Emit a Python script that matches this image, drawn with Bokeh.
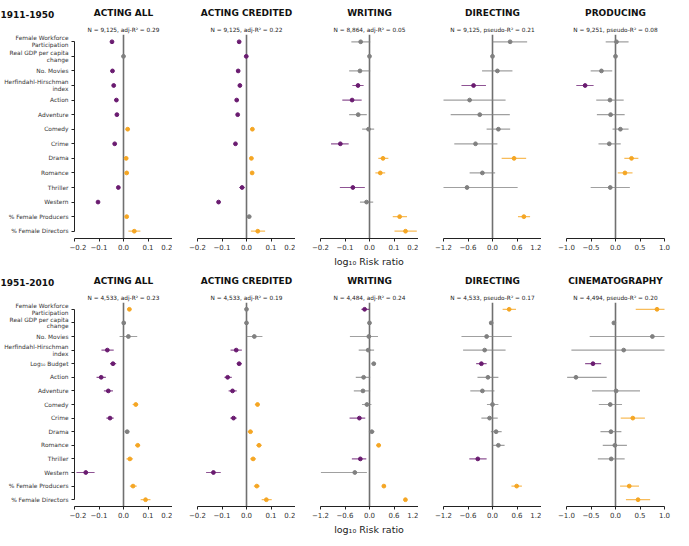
from bokeh.plotting import figure
from bokeh.layouts import row, column
from bokeh.models import Range1d, Span, Title, FixedTicker, ColumnDataSource, Div, Spacer
from bokeh.core.properties import value
from bokeh.embed import file_html
from bokeh.resources import INLINE

# ---------------- data ----------------
cats_1 = ["Female Workforce\nParticipation", "Real GDP per capita\nchange", "No. Movies",
          "Herfindahl-Hirschman\nindex", "Action", "Adventure", "Comedy", "Crime", "Drama",
          "Romance", "Thriller", "Western", "% Female Producers", "% Female Directors"]
cats_2 = cats_1[:4] + ["Log\u2081\u2080 Budget"] + cats_1[4:]

row_labels = ["1911-1950", "1951-2010"]
titles_1 = ["ACTING ALL", "ACTING CREDITED", "WRITING", "DIRECTING", "PRODUCING"]
titles_2 = ["ACTING ALL", "ACTING CREDITED", "WRITING", "DIRECTING", "CINEMATOGRAPHY"]
subs_1 = ["N = 9,125, adj-R\u00b2 = 0.29", "N = 9,125, adj-R\u00b2 = 0.22", "N = 8,864, adj-R\u00b2 = 0.05",
          "N = 9,125, pseudo-R\u00b2 = 0.21", "N = 9,251, pseudo-R\u00b2 = 0.08"]
subs_2 = ["N = 4,533, adj-R\u00b2 = 0.23", "N = 4,533, adj-R\u00b2 = 0.19", "N = 4,484, adj-R\u00b2 = 0.24",
          "N = 4,533, pseudo-R\u00b2 = 0.17", "N = 4,494, pseudo-R\u00b2 = 0.20"]

ticks_small = [-0.2, -0.1, 0.0, 0.1, 0.2]
ticks_mid = [-1.2, -0.6, 0.0, 0.6, 1.2]
ticks_unit = [-1.0, -0.5, 0.0, 0.5, 1.0]
tick_text_small = ["\u22120.2", "\u22120.1", "0.0", "0.1", "0.2"]
tick_text_mid = ["\u22121.2", "\u22120.6", "0.0", "0.6", "1.2"]
tick_text_unit = ["\u22121.0", "\u22120.5", "0.0", "0.5", "1.0"]
xlabel = "log\u2081\u2080 Risk ratio"

# Row 1 (1911-1950)
r1_act_est = [-0.047, 0.000, -0.045, -0.040, -0.029, -0.027, 0.017, -0.036, 0.011, 0.013, -0.021, -0.104, 0.013, 0.044]
r1_act_lo = [-0.052, -0.003, -0.050, -0.045, -0.034, -0.032, 0.013, -0.041, 0.007, 0.009, -0.027, -0.109, 0.008, 0.020]
r1_act_hi = [-0.042, 0.003, -0.040, -0.035, -0.024, -0.022, 0.021, -0.031, 0.015, 0.017, -0.015, -0.099, 0.018, 0.069]
r1_act_sig = [-1, 0, -1, -1, -1, -1, 1, -1, 1, 1, -1, -1, 1, 1]

r1_cred_est = [-0.030, -0.001, -0.034, -0.027, -0.040, -0.036, 0.024, -0.045, 0.020, 0.023, -0.018, -0.114, 0.011, 0.046]
r1_cred_lo = [-0.035, -0.003, -0.039, -0.031, -0.045, -0.041, 0.020, -0.050, 0.016, 0.019, -0.030, -0.119, 0.003, 0.018]
r1_cred_hi = [-0.025, 0.001, -0.029, -0.023, -0.035, -0.031, 0.028, -0.040, 0.024, 0.027, -0.007, -0.109, 0.019, 0.076]
r1_cred_sig = [-1, -1, -1, -1, -1, -1, 1, -1, 1, 1, -1, -1, 0, 1]

r1_writ_est = [-0.036, 0.000, -0.039, -0.047, -0.071, -0.046, -0.004, -0.119, 0.055, 0.044, -0.068, -0.012, 0.123, 0.147]
r1_writ_lo = [-0.074, -0.003, -0.083, -0.070, -0.111, -0.083, -0.030, -0.157, 0.036, 0.024, -0.121, -0.039, 0.095, 0.102]
r1_writ_hi = [0.003, 0.003, 0.003, -0.024, -0.032, -0.011, 0.019, -0.085, 0.077, 0.064, -0.019, 0.015, 0.153, 0.193]
r1_writ_sig = [0, 0, 0, -1, -1, 0, 0, -1, 1, 1, -1, 0, 1, 1]

r1_dir_est = [0.432, 0.000, 0.120, -0.464, -0.560, -0.312, 0.144, -0.416, 0.528, -0.248, -0.624, None, 0.768, None]
r1_dir_lo = [-0.005, -0.020, -0.256, -0.760, -1.250, -1.024, -0.144, -0.936, 0.224, -0.560, -1.250, None, 0.624, None]
r1_dir_hi = [0.848, 0.020, 0.488, -0.160, 0.320, 0.424, 0.432, 0.120, 0.824, 0.064, 0.616, None, 0.920, None]
r1_dir_sig = [0, 0, 0, -1, 0, 0, 0, 0, 1, 0, 0, None, 1, None]

r1_prod_est = [0.020, 0.000, -0.287, -0.620, -0.113, -0.100, 0.100, -0.127, 0.327, 0.193, -0.107, None, None, None]
r1_prod_lo = [-0.200, -0.015, -0.507, -0.800, -0.393, -0.380, -0.060, -0.347, 0.180, 0.047, -0.507, None, None, None]
r1_prod_hi = [0.267, 0.015, -0.067, -0.447, 0.167, 0.187, 0.267, 0.107, 0.467, 0.347, 0.293, None, None, None]
r1_prod_sig = [0, 0, 0, -1, 0, 0, 0, 0, 1, 1, 0, None, None, None]

# Row 2 (1951-2010)
r2_act_est = [0.024, 0.001, 0.020, -0.066, -0.043, -0.091, -0.062, 0.050, -0.055, 0.015, 0.058, 0.026, -0.154, 0.039, 0.090]
r2_act_lo = [0.016, -0.002, -0.016, -0.090, -0.055, -0.110, -0.080, 0.037, -0.070, 0.005, 0.047, 0.012, -0.192, 0.026, 0.070]
r2_act_hi = [0.032, 0.004, 0.056, -0.040, -0.030, -0.072, -0.043, 0.060, -0.040, 0.024, 0.068, 0.039, -0.118, 0.054, 0.110]
r2_act_sig = [1, 0, 0, -1, -1, -1, -1, 1, -1, 0, 1, 1, -1, 1, 1]

r2_cred_est = [0.000, 0.000, 0.032, -0.042, -0.030, -0.077, -0.057, 0.045, -0.053, 0.016, 0.051, 0.027, -0.135, 0.042, 0.081]
r2_cred_lo = [-0.003, -0.002, 0.000, -0.065, -0.040, -0.090, -0.073, 0.034, -0.066, 0.005, 0.040, 0.015, -0.165, 0.030, 0.062]
r2_cred_hi = [0.003, 0.002, 0.065, -0.019, -0.019, -0.060, -0.040, 0.054, -0.040, 0.026, 0.062, 0.039, -0.105, 0.054, 0.103]
r2_cred_sig = [0, 0, 0, -1, -1, -1, -1, 1, -1, 1, 1, 1, -1, 1, 1]

r2_writ_est = [-0.120, 0.000, -0.016, -0.032, 0.104, -0.144, -0.160, -0.064, -0.248, 0.056, 0.224, -0.224, -0.360, 0.352, 0.880]
r2_writ_lo = [-0.200, -0.020, -0.480, -0.264, 0.048, -0.336, -0.384, -0.184, -0.488, -0.016, 0.168, -0.432, -1.192, 0.304, 0.840]
r2_writ_hi = [-0.005, 0.020, 0.208, 0.112, 0.160, 0.016, 0.016, 0.048, -0.104, 0.120, 0.280, -0.080, -0.064, 0.400, 0.920]
r2_writ_sig = [-1, 0, 0, 0, 0, 0, 0, 0, -1, 0, 1, -1, 0, 1, 1]

r2_dir_est = [0.408, -0.032, -0.144, -0.192, -0.272, -0.112, -0.248, 0.000, -0.072, 0.088, 0.144, -0.360, None, 0.592, None]
r2_dir_lo = [0.248, -0.045, -0.760, -0.720, -0.400, -0.368, -0.544, -0.136, -0.272, -0.040, 0.000, -0.568, None, 0.464, None]
r2_dir_hi = [0.576, -0.020, 0.472, 0.320, -0.144, 0.144, 0.048, 0.144, 0.128, 0.224, 0.296, -0.144, None, 0.720, None]
r2_dir_sig = [1, 0, 0, 0, -1, 0, 0, 0, 0, 0, 0, -1, None, 1, None]

r2_cine_est = [0.847, -0.033, 0.753, 0.167, -0.460, -0.807, 0.013, -0.107, 0.353, -0.093, -0.013, -0.087, None, 0.280, 0.460]
r2_cine_lo = [0.413, -0.050, -0.527, -0.900, -0.620, -0.987, -0.480, -0.340, 0.107, -0.307, -0.260, -0.360, None, 0.093, 0.213]
r2_cine_hi = [1.050, -0.016, 1.050, 1.050, -0.293, -0.180, 0.500, 0.133, 0.600, 0.120, 0.233, 0.187, None, 0.480, 0.707]
r2_cine_sig = [1, 0, 0, 0, -1, 0, 0, 0, 1, 0, 0, 0, None, 1, 1]

# ---------------- style ----------------
FONT = "DejaVu Sans"
PURPLE = "#6a1b70"
ORANGE = "#f5a623"
GRAY = "#808080"
COLOR_OF = {-1: PURPLE, 0: GRAY, 1: ORANGE}
FW, FH = 98, 204
LABEL_W = 69
GAP = 25
BOTTOM = 17
XLAB_H = 13
LINE_PX = 6.8


def add_titles(p, title, subtitle, align="center"):
    p.add_layout(Title(text=subtitle, align=align, text_font=FONT, text_font_size="5.8px",
                       text_font_style="normal", text_color="#222222", standoff=3), "above")
    p.add_layout(Title(text=title, align=align, text_font=FONT, text_font_size="9px",
                       text_font_style="bold", text_color="#111111", standoff=11), "above")


def make_label_fig(cats, row_label):
    n = len(cats)
    p = figure(frame_width=LABEL_W, frame_height=FH, x_range=Range1d(0, 1),
               y_range=Range1d(n - 0.5, -0.5), output_backend="svg", toolbar_location=None,
               x_axis_location=None, y_axis_location=None,
               min_border_left=0, min_border_right=0, min_border_top=0,
               min_border_bottom=BOTTOM)
    p.outline_line_color = None
    p.xgrid.visible = False
    p.ygrid.visible = False
    ys, txt, offs = [], [], []
    for i, cat in enumerate(cats):
        parts = cat.split("\n")
        m = len(parts)
        for k, part in enumerate(parts):
            ys.append(i)
            txt.append(part)
            offs.append((k - (m - 1) / 2) * LINE_PX)
    src = ColumnDataSource(dict(y=ys, t=txt, off=offs))
    p.text(x=1, y="y", text="t", source=src, text_align="right", text_baseline="middle",
           text_font=value(FONT), text_font_size=value("5.9px"), text_color="#333333",
           x_offset=-1, y_offset="off")
    add_titles(p, row_label, " ", align="left")
    return p


def make_panel(est, lo, hi, sig, cats, ticks, tick_text, title, subtitle, col):
    n = len(cats)
    p = figure(frame_width=FW, frame_height=FH,
               x_range=Range1d(ticks[0], ticks[-1]),
               y_range=Range1d(n - 0.5, -0.5),
               output_backend="svg", toolbar_location=None,
               min_border_left=5 if col == 0 else GAP,
               min_border_right=8 if col == 4 else 0,
               min_border_top=0, min_border_bottom=BOTTOM)
    p.outline_line_color = None
    p.xgrid.visible = False
    p.ygrid.visible = False
    p.background_fill_color = "white"

    ys, e, l, h, c = [], [], [], [], []
    for i in range(n):
        if est[i] is None:
            continue
        ys.append(i)
        e.append(est[i])
        l.append(lo[i])
        h.append(hi[i])
        c.append(COLOR_OF[sig[i]])
    src = ColumnDataSource(dict(y=ys, est=e, lo=l, hi=h, color=c))

    p.add_layout(Span(location=0, dimension="height", line_color="#707070",
                      line_width=1.6, level="underlay"))
    p.segment(x0="lo", y0="y", x1="hi", y1="y", line_color="color",
              line_width=1.2, line_alpha=0.75, source=src)
    p.scatter(x="est", y="y", size=3.8, fill_color="color",
              line_color="color", source=src)

    xa = p.xaxis[0]
    xa.ticker = FixedTicker(ticks=ticks)
    xa.major_label_overrides = {t: s for t, s in zip(ticks, tick_text)}
    xa.minor_tick_line_color = None
    xa.major_tick_out = 3
    xa.major_tick_in = 0
    xa.major_label_standoff = 2
    xa.axis_line_color = "#222222"
    xa.major_tick_line_color = "#222222"
    xa.major_label_text_font = FONT
    xa.major_label_text_font_size = "7px"
    xa.major_label_text_color = "#333333"

    ya = p.yaxis[0]
    if col == 0:
        ya.ticker = FixedTicker(ticks=list(range(n)))
        ya.major_label_overrides = {i: "" for i in range(n)}
        ya.bounds = (0, n - 1)
        ya.minor_tick_line_color = None
        ya.major_tick_out = 3
        ya.major_tick_in = 0
        ya.major_label_standoff = 0
        ya.major_label_text_font_size = "1px"
        ya.axis_line_color = "#222222"
        ya.major_tick_line_color = "#222222"
    else:
        ya.visible = False

    add_titles(p, title, subtitle)
    return p


def xlabel_row():
    # centred under the middle (third) panel's frame
    left = LABEL_W + (5 + FW) + (GAP + FW) + GAP + FW / 2 - 60
    div = Div(text=xlabel, width=120, height=XLAB_H, margin=(0, 0, 0, 0),
              styles={"text-align": "center", "font-family": FONT, "font-size": "9.5px",
                      "color": "#222222", "line-height": "%dpx" % XLAB_H,
                      "white-space": "nowrap"})
    return row(Spacer(width=int(left), height=XLAB_H, margin=(0, 0, 0, 0)), div)


row1_data = [
    (r1_act_est, r1_act_lo, r1_act_hi, r1_act_sig, ticks_small, tick_text_small),
    (r1_cred_est, r1_cred_lo, r1_cred_hi, r1_cred_sig, ticks_small, tick_text_small),
    (r1_writ_est, r1_writ_lo, r1_writ_hi, r1_writ_sig, ticks_small, tick_text_small),
    (r1_dir_est, r1_dir_lo, r1_dir_hi, r1_dir_sig, ticks_mid, tick_text_mid),
    (r1_prod_est, r1_prod_lo, r1_prod_hi, r1_prod_sig, ticks_unit, tick_text_unit),
]
row2_data = [
    (r2_act_est, r2_act_lo, r2_act_hi, r2_act_sig, ticks_small, tick_text_small),
    (r2_cred_est, r2_cred_lo, r2_cred_hi, r2_cred_sig, ticks_small, tick_text_small),
    (r2_writ_est, r2_writ_lo, r2_writ_hi, r2_writ_sig, ticks_mid, tick_text_mid),
    (r2_dir_est, r2_dir_lo, r2_dir_hi, r2_dir_sig, ticks_mid, tick_text_mid),
    (r2_cine_est, r2_cine_lo, r2_cine_hi, r2_cine_sig, ticks_unit, tick_text_unit),
]

items = []
for r, (data, cats, titles, subs) in enumerate([(row1_data, cats_1, titles_1, subs_1),
                                                 (row2_data, cats_2, titles_2, subs_2)]):
    figs = [make_label_fig(cats, row_labels[r])]
    for c, (est, lo, hi, sig, ticks, ttext) in enumerate(data):
        figs.append(make_panel(est, lo, hi, sig, cats, ticks, ttext, titles[c], subs[c], c))
    items.append(row(*figs))
    items.append(xlabel_row())

layout = column(*items)
open("out.html", "w").write(file_html(layout, INLINE))
